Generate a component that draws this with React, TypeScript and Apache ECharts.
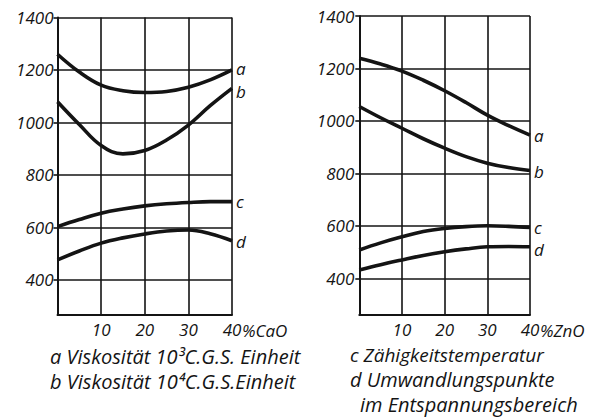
import React, { useEffect, useRef } from "react";
import * as echarts from "echarts";

const xValues = [0, 5, 10, 15, 20, 25, 30, 35, 40];
const yTicks = [400, 600, 800, 1000, 1200, 1400];

// Left chart: CaO
const caoA = [1260, 1192, 1142, 1121, 1114, 1118, 1134, 1162, 1200];
const caoB = [1079, 992, 912, 880, 893, 933, 990, 1064, 1130];
const caoC = [603, 630, 654, 670, 682, 690, 695, 698, 698];
const caoD = [476, 510, 540, 560, 575, 586, 590, 576, 549];

// Right chart: ZnO
const znoA = [1239, 1217, 1190, 1155, 1115, 1070, 1022, 982, 946];
const znoB = [1055, 1012, 972, 932, 896, 864, 839, 822, 811];
const znoC = [508, 535, 558, 578, 590, 597, 600, 598, 594];
const znoD = [432, 452, 470, 487, 501, 512, 520, 521, 520];

const curveNames = ["a", "b", "c", "d"];
const leftUnit = "%CaO";
const rightUnit = "%ZnO";

const legendLines = [
  "a Viskosität 10³C.G.S. Einheit",
  "b Viskosität 10⁴C.G.S.Einheit",
  "c Zähigkeitstemperatur",
  "d Umwandlungspunkte",
  "im Entspannungsbereich",
];

const FONT = '"Open Sans", "Noto Sans", "DejaVu Sans", sans-serif';
const INK = "#141414";

export default function App() {
  const ref = useRef<HTMLDivElement>(null);

  useEffect(() => {
    if (!ref.current) return;
    const chart = echarts.init(ref.current, undefined, { renderer: "svg" });

    const textBase = {
      color: INK,
      fontFamily: FONT,
      fontStyle: "italic" as const,
      fontSize: 17,
    };

    const mkX = (gridIndex: number, unit: string) => ({
      type: "value",
      gridIndex,
      min: 0,
      max: 40,
      interval: 10,
      axisLine: { show: true, lineStyle: { color: INK, width: 2 } },
      axisTick: { show: false },
      splitLine: { show: true, lineStyle: { color: INK, width: 1.6 } },
      axisLabel: { ...textBase, margin: 6, showMinLabel: false },
      name: unit,
      nameLocation: "end",
      nameGap: 10,
      nameMoveOverlap: false,
      nameTextStyle: { ...textBase, verticalAlign: "top", padding: [7, 0, 0, 0] },
    });

    const mkY = (gridIndex: number, min: number, margin: number) => ({
      type: "value",
      gridIndex,
      min,
      max: 1400,
      axisLine: { show: true, lineStyle: { color: INK, width: 2 } },
      axisTick: { show: true, length: 4, customValues: yTicks, lineStyle: { color: INK, width: 1.6 } },
      splitLine: { show: true, lineStyle: { color: INK, width: 1.6 } },
      axisLabel: {
        ...textBase,
        margin,
        customValues: yTicks,
        formatter: (v: number) => String(v),
      },
    });

    const mkSeries = (idx: number, data: number[], name: string, dy: number) => ({
      type: "line",
      name,
      xAxisIndex: idx,
      yAxisIndex: idx,
      data: xValues.map((x, i) => [x, data[i]]),
      smooth: 0.4,
      showSymbol: false,
      symbol: "none",
      lineStyle: { color: INK, width: 3.6 },
      endLabel: {
        show: true,
        formatter: name,
        distance: 4,
        offset: [0, dy],
        ...textBase,
        fontSize: 17,
        lineHeight: 15,
      },
      silent: true,
    });

    const legendStyle = (size: number) => ({
      fill: INK,
      font: `italic ${size}px ${FONT}`,
      lineHeight: 18,
      verticalAlign: "middle",
    });

    chart.setOption({
      animation: false,
      backgroundColor: "#ffffff",
      grid: [
        { left: 57.5, top: 17.5, width: 174.5, height: 297.5 },
        { left: 359.3, top: 16, width: 170.7, height: 299 },
      ],
      xAxis: [mkX(0, leftUnit), mkX(1, rightUnit)],
      yAxis: [mkY(0, 266, 4), mkY(1, 260, 5)],
      series: [
        mkSeries(0, caoA, curveNames[0], -1),
        mkSeries(0, caoB, curveNames[1], 3),
        mkSeries(0, caoC, curveNames[2], 0),
        mkSeries(0, caoD, curveNames[3], 1),
        mkSeries(1, znoA, curveNames[0], 0),
        mkSeries(1, znoB, curveNames[1], 1),
        mkSeries(1, znoC, curveNames[2], 0),
        mkSeries(1, znoD, curveNames[3], 3),
      ],
      graphic: [
        { type: "text", x: 50, y: 356, style: { ...legendStyle(20), text: legendLines[0] } },
        { type: "text", x: 50, y: 381, style: { ...legendStyle(20), text: legendLines[1] } },
        { type: "text", x: 350, y: 355, style: { ...legendStyle(19), text: legendLines[2] } },
        { type: "text", x: 350, y: 379.5, style: { ...legendStyle(20), text: legendLines[3] } },
        { type: "text", x: 360, y: 404.5, style: { ...legendStyle(20), text: legendLines[4] } },
      ],
    });

    return () => chart.dispose();
  }, []);

  return (
    <div
      ref={ref}
      style={{ position: "absolute", left: 0, top: 0, width: 610, height: 417, background: "#fff" }}
    />
  );
}
